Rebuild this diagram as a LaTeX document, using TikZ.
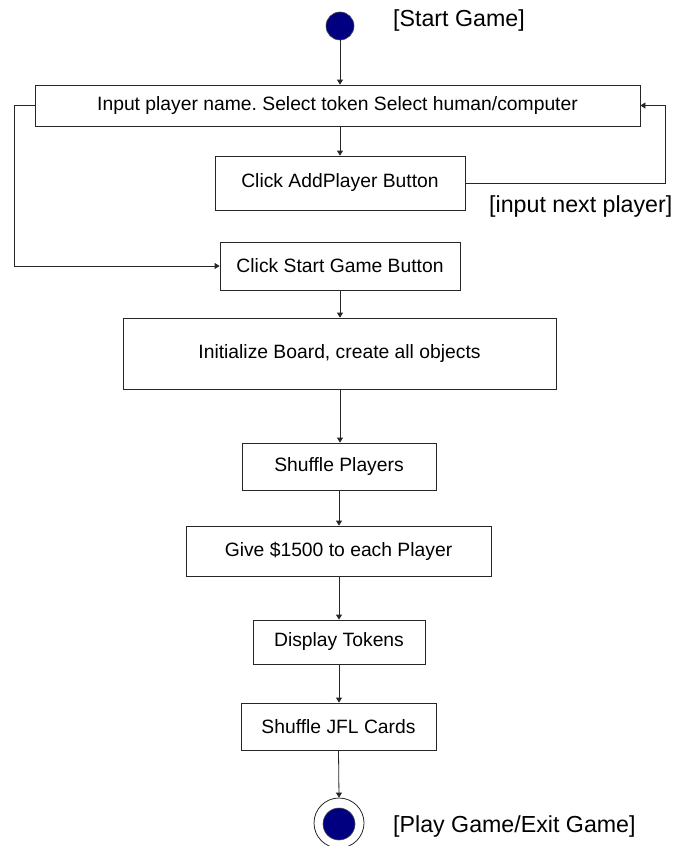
\documentclass[tikz,border=0pt]{standalone}
\usepackage{fontspec}
\setmainfont{Liberation Sans}
\usetikzlibrary{arrows.meta}
\definecolor{navyfill}{RGB}{0,0,128}
\begin{document}
\frenchspacing
\begin{tikzpicture}[x=1pt,y=-1pt,
  box/.style={draw=black!85, line width=0.8pt, rectangle, inner sep=0pt, font=\fontsize{19.3}{22}\selectfont},
  arr/.style={draw=black!85, line width=0.8pt, -{Triangle[width=6pt,length=5pt]}},
  lbl/.style={font=\fontsize{23.2}{26}\selectfont, anchor=west, inner sep=0pt}]
\useasboundingbox (0,0) rectangle (677,846);
\node[circle, fill=navyfill, draw=black!70, line width=0.6pt, minimum width=26pt, minimum height=28pt, inner sep=0pt] (start) at (340,26) {};
\node[lbl] (startlbl) at (393,21) {[Start Game]};
\node[box, minimum width=605pt, minimum height=41pt] (b1) at (337.5,105.5) {Input player name. Select token Select human/computer};
\node[box, minimum width=250pt, minimum height=54pt] (b2) at (340,183) {Click AddPlayer Button};
\node[lbl] (nextlbl) at (489,206) {[input next player]};
\node[box, minimum width=240pt, minimum height=48pt] (b3) at (340,266) {Click Start Game Button};
\node[box, minimum width=433pt, minimum height=71pt] (b4) at (339.5,353.5) {Initialize Board, create all objects};
\node[box, minimum width=194pt, minimum height=47pt] (b5) at (339,466.5) {Shuffle Players};
\node[box, minimum width=305pt, minimum height=50pt] (b6) at (338.5,551) {Give \$1500 to each Player};
\node[box, minimum width=172pt, minimum height=44pt] (b7) at (339,642) {Display Tokens};
\node[box, minimum width=195pt, minimum height=47pt] (b8) at (338.5,726.5) {Shuffle JFL Cards};
\node[circle, draw=black!85, line width=0.8pt, minimum size=50pt, inner sep=0pt] (endo) at (339,823) {};
\node[circle, fill=navyfill, draw=black!70, line width=0.6pt, minimum size=32pt, inner sep=0pt] (endi) at (339,824) {};
\node[lbl] (endlbl) at (393,826) {[Play Game/Exit Game]};
\draw[arr] (start.south) -- (start.south |- b1.north);
\draw[arr] (b1.south -| b2.north) -- (b2.north);
\draw[arr] (b2.east) -- ++(200,0) |- (b1.east);
\draw[arr] (b1.west) -- ++(-20,0) |- (b3.west);
\draw[arr] (b3.south) -- (b3.south |- b4.north);
\draw[arr] (b4.south -| b3.south) -- (b3.south |- b5.north);
\draw[arr] (b5.south) -- (b5.south |- b6.north);
\draw[arr] (b6.south -| b5.south) -- (b5.south |- b7.north);
\draw[arr] (b7.south) -- (b7.south |- b8.north);
\draw[arr] (b8.south) -- (endo.north);
\end{tikzpicture}
\end{document}
